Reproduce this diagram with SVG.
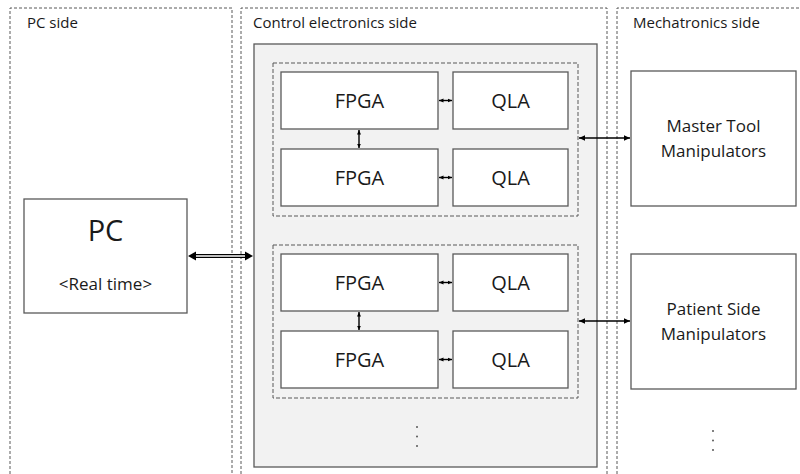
<svg xmlns="http://www.w3.org/2000/svg" width="800" height="474" viewBox="0 0 800 474">
<style>
text{font-family:"Open Sans","Noto Sans","Liberation Sans",sans-serif;fill:#1a1a1a}
.panel{fill:none;stroke:#595959;stroke-width:1;stroke-dasharray:3 2}
.group{fill:none;stroke:#595959;stroke-width:1;stroke-dasharray:4 2}
.box{fill:#fff;stroke:#595959;stroke-width:1.3}
.lbl{font-size:15px}
.big{font-size:20px;text-anchor:middle}
.mid{font-size:17px;text-anchor:middle}
.conn{stroke:#000;stroke-width:1.4;fill:none}
.dot{fill:#595959}
</style>
<defs>
<marker id="ah" viewBox="0 0 10 10" refX="10" refY="5" markerWidth="7" markerHeight="6" orient="auto-start-reverse" markerUnits="userSpaceOnUse"><path d="M0,0.5 L10,5 L0,9.5 z" fill="#000"/></marker>
<marker id="ahs" viewBox="0 0 10 10" refX="10" refY="5" markerWidth="4.5" markerHeight="4.5" orient="auto-start-reverse" markerUnits="userSpaceOnUse"><path d="M0,0.5 L10,5 L0,9.5 z" fill="#000"/></marker>
</defs>

<g id="pc-side">
<path class="panel" d="M10,474 V8 H232 V474"/>
<text class="lbl" x="27" y="28">PC side</text>
</g>
<g id="control-side">
<path class="panel" d="M241,474 V8 H607 V474"/>
<text class="lbl" x="253" y="28">Control electronics side</text>
</g>
<g id="mech-side">
<path class="panel" d="M617,474 V8 H801"/>
<text class="lbl" x="633" y="28">Mechatronics side</text>
</g>

<g id="controller">
<rect x="254" y="44" width="343" height="423" fill="#f2f2f2" stroke="#595959" stroke-width="1.3"/>
<circle class="dot" cx="417" cy="427" r="1"/>
<circle class="dot" cx="417" cy="436.5" r="1"/>
<circle class="dot" cx="417" cy="446" r="1"/>
</g>

<g id="unit1">
<rect class="group" x="273" y="63" width="305" height="153"/>
</g>
<g id="fpga1"><rect class="box" x="281" y="72" width="157" height="57"/><text class="big" x="359.5" y="108">FPGA</text></g>
<g id="qla1"><rect class="box" x="453" y="72" width="115" height="57"/><text class="big" x="510.5" y="108">QLA</text></g>
<g id="fpga2"><rect class="box" x="281" y="149" width="157" height="57"/><text class="big" x="359.5" y="185">FPGA</text></g>
<g id="qla2"><rect class="box" x="453" y="149" width="115" height="57"/><text class="big" x="510.5" y="185">QLA</text></g>

<g id="unit2">
<rect class="group" x="273" y="245" width="305" height="153"/>
</g>
<g id="fpga3"><rect class="box" x="281" y="254" width="157" height="57"/><text class="big" x="359.5" y="290">FPGA</text></g>
<g id="qla3"><rect class="box" x="453" y="254" width="115" height="57"/><text class="big" x="510.5" y="290">QLA</text></g>
<g id="fpga4"><rect class="box" x="281" y="331" width="157" height="57"/><text class="big" x="359.5" y="367">FPGA</text></g>
<g id="qla4"><rect class="box" x="453" y="331" width="115" height="57"/><text class="big" x="510.5" y="367">QLA</text></g>

<g id="pc">
<rect class="box" x="24" y="199" width="163" height="114"/>
<text x="105.5" y="241" text-anchor="middle" style="font-size:29px">PC</text>
<text class="mid" x="105.5" y="290">&lt;Real time&gt;</text>
</g>

<g id="mtm">
<rect class="box" x="631" y="71" width="165" height="135"/>
<text class="mid" x="713.5" y="132">Master Tool</text>
<text class="mid" x="713.5" y="157">Manipulators</text>
</g>

<g id="psm">
<rect class="box" x="631" y="254" width="165" height="135"/>
<text class="mid" x="713.5" y="315">Patient Side</text>
<text class="mid" x="713.5" y="340">Manipulators</text>
<circle class="dot" cx="713" cy="431" r="1"/>
<circle class="dot" cx="713" cy="440.5" r="1"/>
<circle class="dot" cx="713" cy="450" r="1"/>
</g>

<g id="connectors">
<line class="conn" x1="439" y1="100.5" x2="452" y2="100.5" marker-start="url(#ahs)" marker-end="url(#ahs)"/>
<line class="conn" x1="439" y1="177.5" x2="452" y2="177.5" marker-start="url(#ahs)" marker-end="url(#ahs)"/>
<line class="conn" x1="439" y1="282.5" x2="452" y2="282.5" marker-start="url(#ahs)" marker-end="url(#ahs)"/>
<line class="conn" x1="439" y1="359.5" x2="452" y2="359.5" marker-start="url(#ahs)" marker-end="url(#ahs)"/>
<line class="conn" x1="359" y1="130" x2="359" y2="148" marker-start="url(#ahs)" marker-end="url(#ahs)"/>
<line class="conn" x1="359" y1="312" x2="359" y2="330" marker-start="url(#ahs)" marker-end="url(#ahs)"/>
<line class="conn" x1="579" y1="138" x2="630" y2="138" marker-start="url(#ah)" marker-end="url(#ah)"/>
<line class="conn" x1="579" y1="321" x2="630" y2="321" marker-start="url(#ah)" marker-end="url(#ah)"/>
<line x1="193" y1="256" x2="248" y2="256" stroke="#000" stroke-width="4"/>
<line x1="193" y1="256" x2="248" y2="256" stroke="#fff" stroke-width="1.4"/>
<polygon points="188,256 196,251.5 196,260.5" fill="#000"/>
<polygon points="253,256 245,251.5 245,260.5" fill="#000"/>
</g>
</svg>
